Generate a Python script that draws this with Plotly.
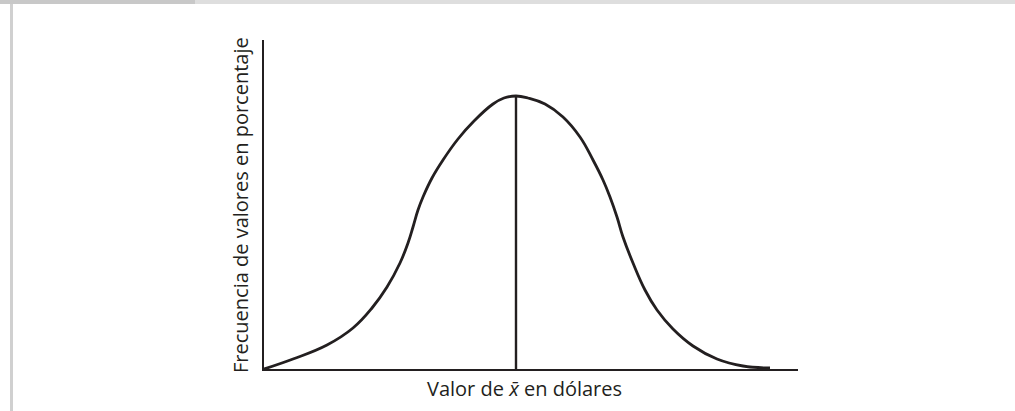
import plotly.graph_objects as go

# curva de frecuencia (valor de x-barra vs frecuencia)
valor = [0, 29, 63, 89, 108, 123, 136, 144, 149, 154, 159, 168, 179, 194, 210, 229, 240, 252,
         264, 281, 299, 316, 329, 339, 346, 353, 359, 369, 381, 393, 409, 429, 453, 479, 506]
frecuencia = [0, 10, 24, 41, 61, 82, 106, 126, 142, 159, 172, 191, 209, 230, 248, 265, 271, 273,
              271, 265, 252, 232, 209, 189, 172, 152, 132, 106, 79, 59, 40, 23, 10, 3, 1]
media = 252
pico = 273

x_title = "Valor de <i>x̄</i> en dólares"
y_title = "Frecuencia de valores en porcentaje"

W, H = 1015, 411
L, R, T, B = 264, 798, 40, 369  # plot area in pixels
ink = "#231f20"

def px(x):
    return (x - L) / (R - L)

def py(y):
    return (B - y) / (B - T)

fig = go.Figure()
fig.add_trace(go.Scatter(x=valor, y=frecuencia, mode="lines",
                         line=dict(color=ink, width=2.8, shape="spline", smoothing=1.2),
                         hoverinfo="skip"))
fig.add_trace(go.Scatter(x=[media, media], y=[0, pico], mode="lines",
                         line=dict(color=ink, width=2.4), hoverinfo="skip"))

shapes = [
    # frame decoration
    dict(type="rect", xref="paper", yref="paper", x0=px(0), x1=px(195), y0=py(4), y1=py(0),
         fillcolor="#c8c8c8", line_width=0, layer="below"),
    dict(type="rect", xref="paper", yref="paper", x0=px(195), x1=px(W), y0=py(4), y1=py(0),
         fillcolor="#dedede", line_width=0, layer="below"),
    dict(type="rect", xref="paper", yref="paper", x0=px(10), x1=px(13), y0=py(H), y1=py(4),
         fillcolor="#d0d0d0", line_width=0, layer="below"),
]

annotations = [
    dict(text=x_title, xref="paper", yref="paper", x=px(524), y=py(389),
         showarrow=False, xanchor="center", yanchor="middle",
         font=dict(family="Open Sans", size=20, color=ink)),
    dict(text=y_title, xref="paper", yref="paper", x=px(240), y=py(205),
         showarrow=False, xanchor="center", yanchor="middle", textangle=-90,
         font=dict(family="Open Sans", size=20, color=ink)),
]

fig.update_layout(
    width=W, height=H,
    margin=dict(l=L, r=W - R, t=T, b=H - B, pad=0),
    plot_bgcolor="white", paper_bgcolor="white",
    showlegend=False,
    shapes=shapes, annotations=annotations,
    xaxis=dict(range=[0, R - L], showgrid=False, zeroline=False, showticklabels=False,
               ticks="", showline=True, linecolor=ink, linewidth=1.8, fixedrange=True),
    yaxis=dict(range=[0, B - T], showgrid=False, zeroline=False, showticklabels=False,
               ticks="", showline=True, linecolor=ink, linewidth=1.8, fixedrange=True),
)

fig.write_html("out.html", config={"displayModeBar": False},
               post_script="document.body.style.margin='0';document.body.style.overflow='hidden';")
